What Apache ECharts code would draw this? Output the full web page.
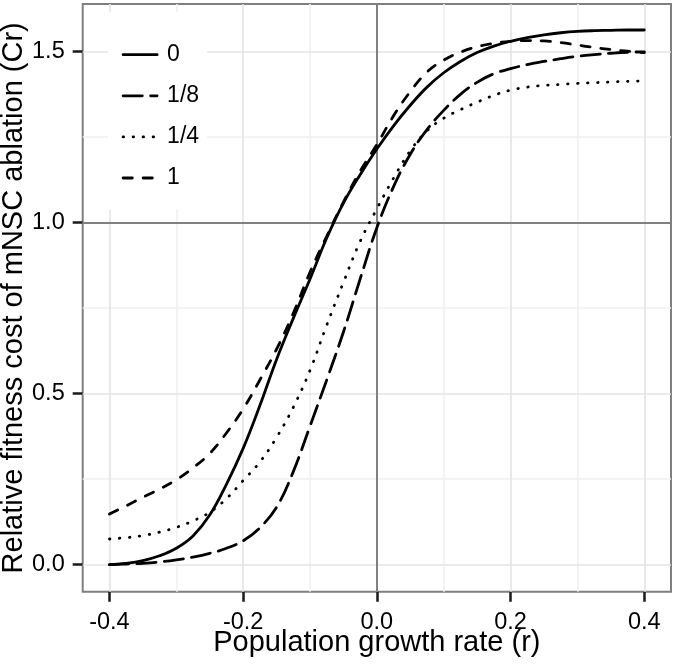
<!DOCTYPE html>
<html><head><meta charset="utf-8">
<script src="https://cdn.jsdelivr.net/npm/echarts@6/dist/echarts.min.js"></script>
<style>html,body{margin:0;padding:0;background:#fff}#c{width:675px;height:665px}</style>
</head><body><div id="c"></div>
<script>
// ---- data ----
const xs = [-0.4,-0.375,-0.35,-0.325,-0.3,-0.275,-0.25,-0.225,-0.2,-0.175,-0.15,-0.125,-0.1,-0.075,-0.05,-0.025,0,
            0.025,0.05,0.075,0.1,0.125,0.15,0.175,0.2,0.225,0.25,0.275,0.3,0.325,0.35,0.375,0.4];
const s0  = [0.000,0.004,0.012,0.026,0.048,0.084,0.145,0.235,0.340,0.465,0.600,0.720,0.835,0.955,1.057,1.140,1.215,
             1.283,1.343,1.396,1.438,1.471,1.497,1.516,1.530,1.541,1.549,1.555,1.559,1.561,1.562,1.563,1.563];
const s18 = [0.000,0.002,0.004,0.008,0.014,0.022,0.033,0.048,0.070,0.108,0.168,0.272,0.405,0.540,0.680,0.835,0.985,
             1.105,1.200,1.272,1.328,1.375,1.410,1.435,1.450,1.462,1.471,1.479,1.486,1.491,1.495,1.498,1.499];
const s14 = [0.075,0.079,0.085,0.095,0.109,0.128,0.153,0.193,0.246,0.300,0.372,0.460,0.568,0.700,0.825,0.945,1.040,
             1.130,1.210,1.268,1.305,1.330,1.352,1.372,1.387,1.396,1.401,1.404,1.407,1.409,1.411,1.413,1.414];
const s1  = [0.148,0.172,0.197,0.221,0.248,0.283,0.325,0.385,0.455,0.540,0.630,0.735,0.855,0.960,1.060,1.150,1.228,
             1.312,1.383,1.440,1.475,1.498,1.514,1.524,1.530,1.532,1.531,1.526,1.519,1.512,1.506,1.501,1.497];
const seriesNames = ['0','1/8','1/4','1'];
const xTicks = [-0.4,-0.2,0,0.2,0.4];
const xMinor = [-0.3,-0.1,0.1,0.3];
const yTicks = [0,0.5,1,1.5];
const yMinor = [0.25,0.75,1.25];
const refX = [0];
const refY = [1];
const xTitle = 'Population growth rate (r)';
const yTitle = 'Relative fitness cost of mNSC ablation (Cr)';

// ---- chart ----
const FONT = '"Liberation Sans", Arial, Helvetica, sans-serif';
const pair = ys => xs.map((x,i)=>[x, ys[i]]);
const allY = [s0,s18,s14,s1];
const dashes = ['solid', [19.2, 8.3], [0.5, 9.5], [9.2, 10.8]];

const curveSeries = allY.map((ys,i)=>({
  name: seriesNames[i], type:'line', data: pair(ys), symbol:'none', showSymbol:false,
  smooth: 0.4, z:3, silent:true, emphasis:{disabled:true},
  itemStyle:{color:'rgba(0,0,0,0)', borderWidth:0},
  lineStyle:{color:'#000', width:2.8, type: dashes[i], cap:'round', join:'round'}
}));

const gridLine = (v, axis, color) => ({[axis]: v, lineStyle:{color:color, width:1.6, type:'solid'}});
const gridSeries = {
  type:'line', data:[], silent:true,
  markLine:{silent:true, z:1, symbol:['none','none'], animation:false, label:{show:false}, emphasis:{disabled:true},
    data:[
      ...xMinor.map(v=>gridLine(v,'xAxis','#f1f1f1')),
      ...yMinor.map(v=>gridLine(v,'yAxis','#f1f1f1')),
      ...xTicks.map(v=>gridLine(v,'xAxis','#e4e4e4')),
      ...yTicks.map(v=>gridLine(v,'yAxis','#e4e4e4'))
    ]}
};
const refSeries = {
  type:'line', data:[], silent:true,
  markLine:{silent:true, z:2, symbol:['none','none'], animation:false, label:{show:false}, emphasis:{disabled:true},
    lineStyle:{color:'#808080', width:2, type:'solid'},
    data:[...refX.map(v=>({xAxis:v})), ...refY.map(v=>({yAxis:v}))]}
};

const chart = echarts.init(document.getElementById('c'), null, {renderer:'canvas'});
chart.setOption({
  animation:false,
  backgroundColor:'#fff',
  grid:{left:82.7, right:4, top:4, bottom:73.3, show:true, borderColor:'#7f7f7f', borderWidth:2,
        backgroundColor:'#fff', containLabel:false, outerBoundsMode:'none'},
  legend:{
    orient:'vertical', left:108, top:12, backgroundColor:'#fff', padding:[31.2, 8, 20, 13.7],
    itemWidth:34, itemHeight:14, itemGap:18.1, selectedMode:false, data:seriesNames,
    itemStyle:{color:'rgba(0,0,0,0)', borderWidth:0, opacity:0},
    lineStyle:{width:2.8, color:'#000'},
    textStyle:{fontSize:23, color:'#000', fontFamily:FONT, padding:[0,0,0,5]}
  },
  xAxis:{
    type:'value', min:-0.44, max:0.44,
    axisLine:{show:false, onZero:false}, splitLine:{show:false},
    axisTick:{show:true, customValues:xTicks, length:10, inside:false, lineStyle:{color:'#1a1a1a', width:2.5}},
    axisLabel:{customValues:xTicks, formatter:v=>v.toFixed(1), margin:19, fontSize:23.5, color:'#000', fontFamily:FONT},
    name:xTitle, nameLocation:'middle', nameGap:37, nameMoveOverlap:false,
    nameTextStyle:{fontSize:29, color:'#000', fontFamily:FONT}
  },
  yAxis:{
    type:'value', min:-0.079, max:1.639,
    axisLine:{show:false, onZero:false}, splitLine:{show:false},
    axisTick:{show:true, customValues:yTicks, length:10, inside:false, lineStyle:{color:'#1a1a1a', width:2.5}},
    axisLabel:{customValues:yTicks, formatter:v=>v.toFixed(1), margin:18, fontSize:23.5, color:'#000', fontFamily:FONT},
    name:yTitle, nameLocation:'middle', nameGap:54, nameMoveOverlap:false,
    nameTextStyle:{fontSize:29, color:'#000', fontFamily:FONT}
  },
  series:[gridSeries, refSeries, ...curveSeries]
});
</script></body></html>
